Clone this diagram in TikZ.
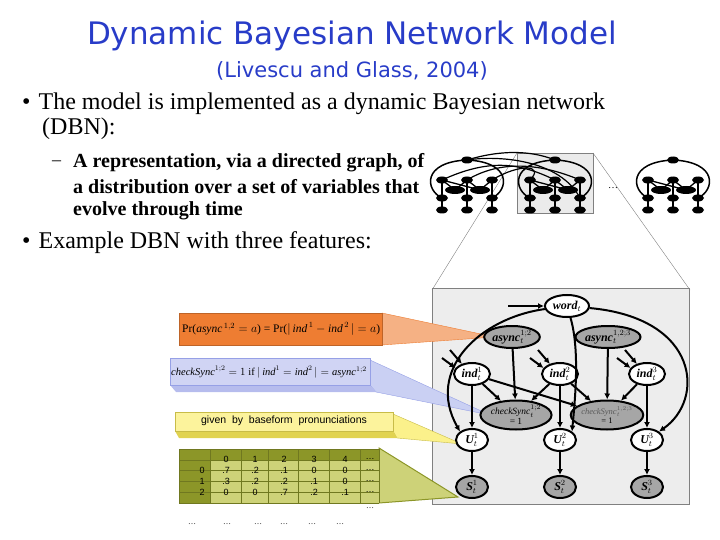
\documentclass[tikz,border=0pt]{standalone}
\usepackage{fontspec}
\setmainfont{Liberation Serif}
\newfontfamily\titlefont{DejaVu Sans}
\newfontfamily\arialf{Liberation Sans}
\usetikzlibrary{shapes.geometric,arrows.meta}
\definecolor{ttl}{RGB}{40,60,200}
\definecolor{orng}{RGB}{238,125,50}
\definecolor{blu}{RGB}{150,160,230}
\definecolor{yel}{RGB}{250,235,90}
\definecolor{olv}{RGB}{140,150,40}
\definecolor{olvl}{RGB}{205,210,120}
\tikzset{
 bn/.style={ellipse,draw=black,line width=2pt,fill=white,inner sep=0pt,minimum width=40pt,minimum height=22pt,font=\bfseries\itshape\fontsize{12}{12}\selectfont},
 bng/.style={bn,fill=black!35},
 ed/.style={-{Latex[length=6pt,width=6pt]},line width=2pt},
 mini/.style={ellipse,fill=black,minimum width=12pt,minimum height=7pt,inner sep=0pt},
 miniw/.style={ellipse,fill=black,minimum width=20pt,minimum height=8pt,inner sep=0pt},
 txt/.style={anchor=west,inner sep=0pt},
}
\newcommand{\sx}[2]{#1$_{t}^{#2}$}
\begin{document}
\begin{tikzpicture}[x=1pt,y=-1pt]
\useasboundingbox (0,0) rectangle (720,540);
% title
\node (t1) at (352,36) {\titlefont\color{ttl}\fontsize{31}{33}\selectfont Dynamic Bayesian Network Model};
\node (t2) at (352,71) {\titlefont\color{ttl}\fontsize{21}{23}\selectfont (Livescu and Glass, 2004)};
\node[txt] (b1) at (22,104) {\fontsize{24}{25}\selectfont •\hspace{8pt}The model is implemented as a dynamic Bayesian network};
\node[txt] (b1b) at (42,129) {\fontsize{24}{25}\selectfont (DBN):};
\node[txt] (s0) at (52,163) {\fontsize{18}{18}\selectfont –};
\node[txt] (s1) at (73,163) {\fontsize{20}{20}\selectfont\bfseries A representation, via a directed graph, of};
\node[txt] (s2) at (73,187) {\fontsize{20}{20}\selectfont\bfseries a distribution over a set of variables that};
\node[txt] (s3) at (73,211) {\fontsize{20}{20}\selectfont\bfseries evolve through time};
\node[txt] (b2) at (22,243) {\fontsize{24}{25}\selectfont •\hspace{8pt}Example DBN with three features:};
% small thumbnails
\draw[gray,fill=black!8] (517,153) rectangle (593,213);
\draw[gray] (517,153) -- (432,290);
\draw[gray] (593,153) -- (690,290);
\node (dots0) at (613,188) {\fontsize{10}{10}\selectfont\dots};
\foreach \c/\n in {467/a,555/b,673/c}{
  \begin{scope}[shift={(\c,0)}]
  \draw[line width=1.5pt] (0,160) .. controls (-45,162) and (-42,190) .. (-25,198);
  \draw[line width=1.5pt] (0,160) .. controls (45,162) and (42,190) .. (25,198);
  \foreach \xx in {-25,0,25}{
    \draw[line width=1.5pt] (\xx,180) -- (\xx,210);
    \node[mini] at (\xx,180) {}; \node[mini] at (\xx,198) {}; \node[mini] at (\xx,210) {};}
  \draw[line width=1.3pt] (-25,180) -- (-12,190) -- (0,180) -- (13,190) -- (25,180);
  \draw[line width=1.3pt] (-25,180) -- (13,190);
  \node[miniw] at (-12,190) {}; \node[miniw] at (13,190) {};
  \node[mini] at (0,160) {};
  \end{scope}}
\draw[line width=1.2pt] (467,160) .. controls (500,150) and (530,150) .. (555,160);
\draw[line width=1.2pt] (442,180) .. controls (490,158) and (520,163) .. (555,180);
\draw[line width=1.2pt] (467,180) .. controls (500,160) and (540,163) .. (580,180);
\draw[line width=1.2pt] (492,180) .. controls (520,163) and (545,165) .. (530,180);
\draw[line width=1.2pt] (467,160) .. controls (500,155) and (560,160) .. (580,198);
% big panel
\draw[gray,fill=black!7] (432,288) rectangle (689,504);
% callouts
\fill[orng!60,draw=orng] (382,313) -- (495,337) -- (382,345) -- cycle;
\fill[blu!50,draw=blu] (370,360) -- (490,415) -- (376,392) -- (370,385) -- cycle;
\fill[yel!70,draw=yel!80!black] (393,414) -- (462,444) -- (397,438) -- (393,431) -- cycle;
\fill[olvl,draw=olv,line width=1pt] (379,448) -- (458,497) -- (379,503) -- cycle;
\node[draw=orng!80!black,fill=orng,minimum width=203pt,minimum height=32pt,anchor=north west,inner sep=0pt] (ob) at (179,313) {};
\node[anchor=west,inner sep=0pt] (obt) at (182,329) {\fontsize{11.5}{12}\selectfont Pr($\mathit{async}^{\,1,2}=a$) = Pr($|\,\mathit{ind}^{\,1}-\mathit{ind}^{\,2}\,|=a$)};
\fill[blu!70] (170,385) -- (370,385) -- (376,392) -- (176,392) -- cycle;
\node[draw=blu,fill=blu!45,minimum width=200pt,minimum height=27pt,anchor=north west,inner sep=0pt] (bb) at (170,358) {};
\node[anchor=west,inner sep=0pt] (bbt) at (171,372) {\fontsize{10.5}{11}\selectfont $\mathit{checkSync}^{1;2}=1$ if $|\,\mathit{ind}^1=\mathit{ind}^2\,|=\mathit{async}^{1;2}$};
\fill[yel!90!black] (175,431) -- (393,431) -- (397,438) -- (179,438) -- cycle;
\node[draw=yel!80!black,fill=yel!60,minimum width=218pt,minimum height=19pt,anchor=north west,inner sep=0pt] (yb) at (175,412) {};
\node (ybt) at (284,421) {\arialf\fontsize{10.5}{11}\selectfont given\ \ by\ \ baseform\ \ pronunciations};
% table
\fill[olvl] (179,449) rectangle (379,503);
\fill[olv] (179,449) rectangle (379,460);
\fill[olv] (179,449) rectangle (210,503);
\foreach \y in {449,460,470,481,492,503} \draw[olv!80!black,line width=1pt] (179,\y) -- (379,\y);
\foreach \x in {179,210,241,268,298,329,360,379} \draw[olv!80!black,line width=1pt] (\x,449) -- (\x,503);
\foreach \x/\a/\b/\c/\d in {202/ /0/1/2, 226/0/.7/.3/0, 255/1/.2/.2/0, 284/2/.1/.2/.7, 314/3/0/.1/.2, 345/4/0/0/.1, 370/\dots/\dots/\dots/\dots}{
  \node[font=\arialf\fontsize{9}{9}\selectfont] at (\x,459) {\a};
  \node[font=\arialf\fontsize{9}{9}\selectfont] at (\x,470) {\b};
  \node[font=\arialf\fontsize{9}{9}\selectfont] at (\x,481) {\c};
  \node[font=\arialf\fontsize{9}{9}\selectfont] at (\x,492) {\d};}
\node[font=\fontsize{8}{8}\selectfont] (td) at (370,508) {\dots};
\foreach \x in {192,227,258,284,312,340} \node[font=\fontsize{8}{8}\selectfont] at (\x,524) {\dots};
% big DBN
\node[bn,minimum width=44pt] (word) at (567,306) {word$_t$};
\node[bng,minimum width=54pt] (a12) at (512,337) {\sx{async}{1;2}};
\node[bng,minimum width=54pt] (a123) at (608,337) {\sx{async}{1,2;3}};
\foreach \i/\x in {1/472,2/560,3/647}{
  \node[bn,minimum width=36pt] (ind\i) at (\x,374) {\sx{ind}{\i}};
  \node[bn,minimum width=32pt] (U\i) at (\x,440) {\sx{U}{\i}};
  \node[bng,minimum width=32pt] (S\i) at (\x,487) {\sx{S}{\i}};
  \draw[ed] (U\i) -- (S\i);
  \draw[ed] (ind\i) -- (U\i);
  \coordinate (in\i) at (\x-30,358);
  \coordinate (in\i b) at (\x-22,350);
  \draw[ed] (in\i) -- (ind\i.160);
  \draw[ed] (in\i b) -- (ind\i.135);
}
\node[bng,minimum width=62pt,minimum height=29pt,align=center,font=\itshape\fontsize{9.5}{9}\selectfont] (c12) at (516,415) {\sx{checkSync}{1;2}\\\upshape = 1};
\node[bng,minimum width=62pt,minimum height=29pt,align=center,font=\itshape\fontsize{8.5}{8}\selectfont] (c123) at (607,415) {\color{black!65}\sx{checkSync}{1,2;3}\\\upshape\color{black} = 1};
\coordinate (win) at (508,306);
\draw[ed] (win) -- (word);
\draw[ed] (a12) -- (c12);
\draw[ed] (a123) -- (c123);
\draw[ed] (ind1) -- (c12);
\draw[ed] (ind2) -- (c12);
\draw[ed] (ind1) -- (c123);
\draw[ed] (ind2) -- (c123);
\draw[ed] (ind3) -- (c123);
\draw[ed] (word) .. controls (480,318) and (425,370) .. (U1.north west);
\draw[ed] (word) .. controls (580,350) and (575,400) .. (U2.north east);
\draw[ed] (word) .. controls (700,318) and (705,400) .. (U3.north east);
\end{tikzpicture}
\end{document}
